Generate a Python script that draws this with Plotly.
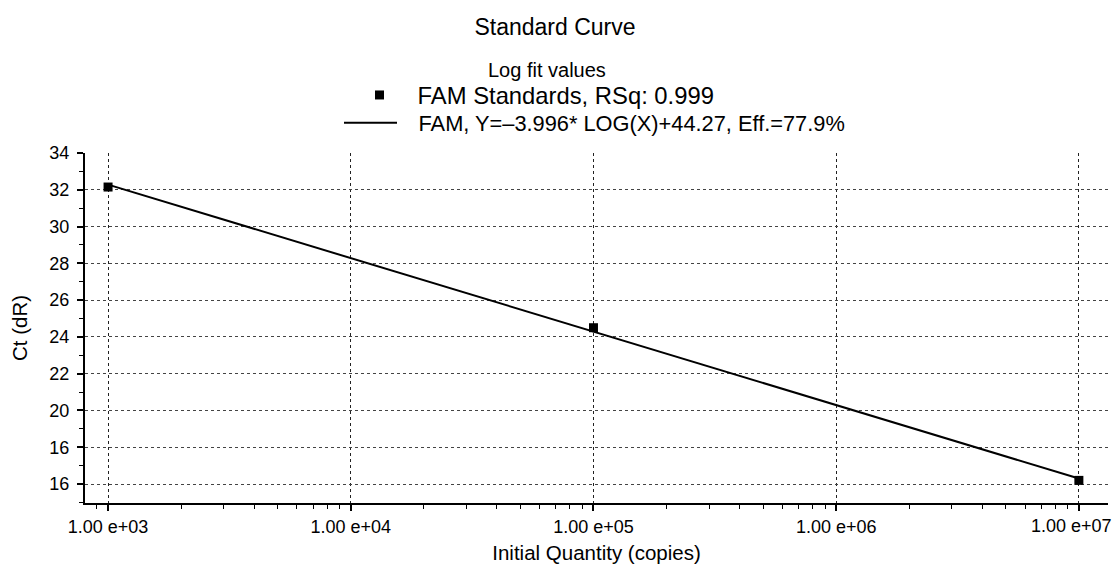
import plotly.graph_objects as go

# Data
std_quantity = [1e3, 1e5, 1e7]
std_ct = [32.15, 24.5, 16.2]
fit_quantity = [1e3, 1e7]
fit_ct = [32.28, 16.30]

x_tick_vals = [1e3, 1e4, 1e5, 1e6, 1e7]
x_tick_text = ["1.00 e+03", "1.00 e+04", "1.00 e+05", "1.00 e+06", "1.00 e+07"]
y_tick_vals = [16, 18, 20, 22, 24, 26, 28, 30, 32, 34]
y_tick_text = ["16", "16", "20", "22", "24", "26", "28", "30", "32", "34"]

legend_title = "Log fit values"
legend_std = "FAM Standards, RSq: 0.999"
legend_fit = "FAM, Y=\u20133.996* LOG(X)+44.27, Eff.=77.9%"

FONT = "Liberation Sans, Arial, sans-serif"
OFF = 8  # page body margin of the browser
W, H = 1120 - OFF, 568 - OFF
L, T = 85 - OFF, 153 - OFF
R, B = W - (1108 - OFF), H - (503 - OFF)
PW, PH = W - L - R, H - T - B


def px_x(px):
    return (px - OFF - L) / PW


def px_y(py):
    return 1 + (T - (py - OFF)) / PH


fig = go.Figure()
fig.add_trace(go.Scatter(
    x=std_quantity, y=std_ct, mode="markers", name="\u00a0" + legend_std,
    marker=dict(symbol="square", size=9, color="black"), legend="legend",
))
fig.add_trace(go.Scatter(
    x=fit_quantity, y=fit_ct, mode="lines", name="\u00a0\u00a0\u2009" + legend_fit,
    line=dict(color="black", width=2), legend="legend2",
))

minor_x = [m * 10 ** e for e in range(2, 8) for m in range(2, 10)]
leg_common = dict(bgcolor="rgba(0,0,0,0)", itemwidth=53,
                  xanchor="left", yanchor="middle", orientation="v")

# the last tick label sits flush with the right edge (as in the reference)
shown_tick_text = x_tick_text[:-1] + [""]

fig.update_layout(
    width=W, height=H,
    margin=dict(l=L, r=R, t=T, b=B, autoexpand=False),
    paper_bgcolor="white", plot_bgcolor="white",
    font=dict(family=FONT, size=18, color="black"),
    title=dict(text="Standard Curve", x=(555 - OFF) / W, xanchor="center",
               y=1 - (27 - OFF) / H, yref="container", yanchor="middle",
               font=dict(size=23, family=FONT, color="black")),
    showlegend=True,
    legend=dict(x=px_x(348), y=px_y(95),
                font=dict(size=23.8, family=FONT, color="black"), **leg_common),
    legend2=dict(x=px_x(339), y=px_y(123),
                 font=dict(size=21.8, family=FONT, color="black"), **leg_common),
    annotations=[
        dict(text=legend_title, xref="paper", yref="paper",
             x=px_x(547), y=px_y(70), xanchor="center", yanchor="middle",
             showarrow=False, font=dict(size=20, family=FONT, color="black")),
        dict(text=x_tick_text[-1], xref="x", yref="paper",
             x=7, y=0, xanchor="right", yanchor="top", xshift=35, yshift=-11,
             showarrow=False, font=dict(size=18, family=FONT, color="black")),
    ],
    xaxis=dict(
        type="log", range=[2.905, 7.12], automargin=False,
        tickvals=x_tick_vals, ticktext=shown_tick_text,
        showline=True, linecolor="black", linewidth=2,
        ticks="outside", ticklen=6, tickwidth=1.5, tickcolor="black",
        showgrid=True, gridcolor="#222", griddash="dot", gridwidth=1.3,
        zeroline=False,
        minor=dict(tickvals=minor_x, ticks="outside", ticklen=4,
                   tickcolor="black", tickwidth=1.2, showgrid=False),
        title=dict(text="Initial Quantity (copies)", standoff=10,
                   font=dict(size=20.5, family=FONT)),
        tickfont=dict(size=18, family=FONT),
    ),
    yaxis=dict(
        range=[14.97, 34.0], automargin=False,
        tickvals=y_tick_vals, ticktext=y_tick_text,
        showline=True, linecolor="black", linewidth=2,
        ticks="outside", ticklen=6, tickwidth=1.5, tickcolor="black",
        showgrid=True, gridcolor="#444", griddash="dot", gridwidth=1,
        zeroline=False, ticklabelstandoff=4,
        minor=dict(dtick=1, ticks="outside", ticklen=4,
                   tickcolor="black", tickwidth=1.2, showgrid=False),
        title=dict(text="Ct (dR)", standoff=16,
                   font=dict(size=20.5, family=FONT)),
        tickfont=dict(size=18, family=FONT),
    ),
)

fig.write_html("out.html")
